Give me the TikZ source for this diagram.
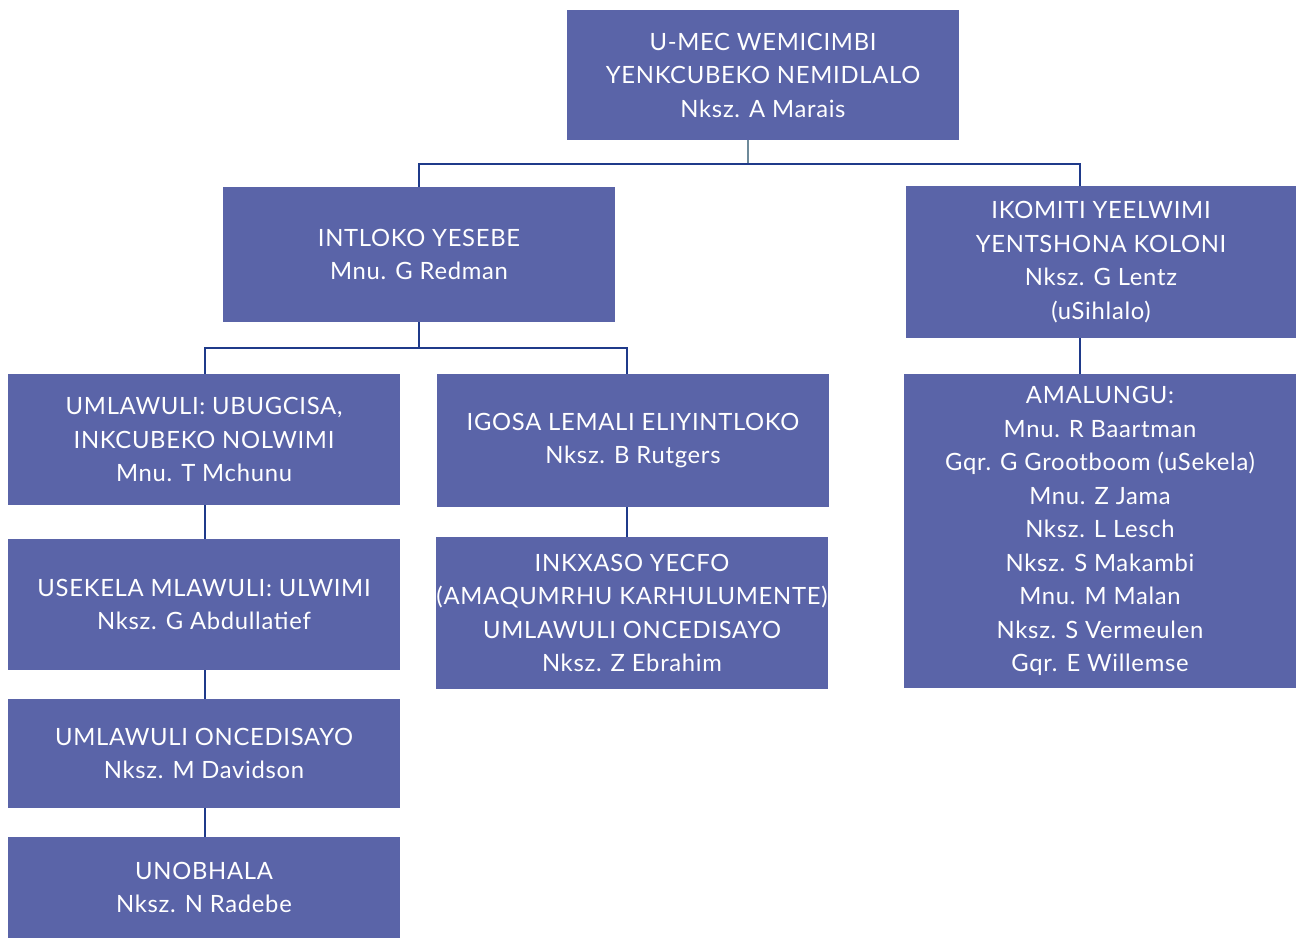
\documentclass[tikz,border=0pt]{standalone}
\usepackage{fontspec}
\setmainfont[LetterSpace=3]{Lato}
\definecolor{boxblue}{HTML}{5A64A8}
\definecolor{lineblue}{HTML}{1F3A8A}
\definecolor{linegray}{HTML}{6E8A9A}
\begin{document}
\begin{tikzpicture}[x=1pt,y=-1pt,
  box/.style={fill=boxblue, draw=none, text=white, align=center, inner sep=0pt,
    font=\fontsize{23.8}{33.5}\selectfont, execute at begin node={\vspace*{4pt}}},
  conn/.style={draw=lineblue, line width=2.6pt}]
\useasboundingbox (0,0) rectangle (1296,938);
\fill[white] (0,0) rectangle (1296,938);
% boxes
\node[box, minimum width=392pt, minimum height=130pt] (mec) at (763,75) {U-MEC WEMICIMBI\\YENKCUBEKO NEMIDLALO\\Nksz. A Marais};
\node[box, minimum width=392pt, minimum height=135pt] (head) at (419,254.5) {INTLOKO YESEBE\\Mnu. G Redman};
\node[box, minimum width=390pt, minimum height=152pt] (kom) at (1101,262) {IKOMITI YEELWIMI\\YENTSHONA KOLONI\\Nksz. G Lentz\\(uSihlalo)};
\node[box, minimum width=392pt, minimum height=131pt] (dir) at (204,439.5) {UMLAWULI: UBUGCISA,\\INKCUBEKO NOLWIMI\\Mnu. T Mchunu};
\node[box, minimum width=392pt, minimum height=133pt] (cfo) at (633,440.5) {IGOSA LEMALI ELIYINTLOKO\\Nksz. B Rutgers};
\node[box, minimum width=392pt, minimum height=314pt] (mem) at (1100,531) {AMALUNGU:\\Mnu. R Baartman\\Gqr. G Grootboom (uSekela)\\Mnu. Z Jama\\Nksz. L Lesch\\Nksz. S Makambi\\Mnu. M Malan\\Nksz. S Vermeulen\\Gqr. E Willemse};
\node[box, minimum width=392pt, minimum height=131pt] (dep) at (204,604.5) {USEKELA MLAWULI: ULWIMI\\Nksz. G Abdullatief};
\node[box, minimum width=392pt, minimum height=152pt] (fin) at (632,613) {INKXASO YECFO\\(AMAQUMRHU KARHULUMENTE)\\UMLAWULI ONCEDISAYO\\Nksz. Z Ebrahim};
\node[box, minimum width=392pt, minimum height=109pt] (asst) at (204,753.5) {UMLAWULI ONCEDISAYO\\Nksz. M Davidson};
\node[box, minimum width=392pt, minimum height=101pt] (sec) at (204,887.5) {UNOBHALA\\Nksz. N Radebe};
% connectors
\coordinate (j1) at (748,164);
\coordinate (kx) at (1080,164);
\draw[draw=linegray, line width=2.4pt] (mec.south -| j1) -- (j1);
\draw[conn] (head.north) -- (head.north |- j1) -- (kx) -- (kom.north -| kx);
\coordinate (j2) at (419,348);
\draw[conn] (head.south) -- (j2);
\draw[conn] (dir.north -| 205,0) -- (205,348) -- (627,348) -- (cfo.north -| 627,0);
\draw[conn] (kom.south -| kx) -- (mem.north -| kx);
\draw[conn] (dir.south -| 205,0) -- (dep.north -| 205,0);
\draw[conn] (dep.south -| 205,0) -- (asst.north -| 205,0);
\draw[conn] (asst.south -| 205,0) -- (sec.north -| 205,0);
\draw[conn] (cfo.south -| 627,0) -- (fin.north -| 627,0);
\end{tikzpicture}
\end{document}
